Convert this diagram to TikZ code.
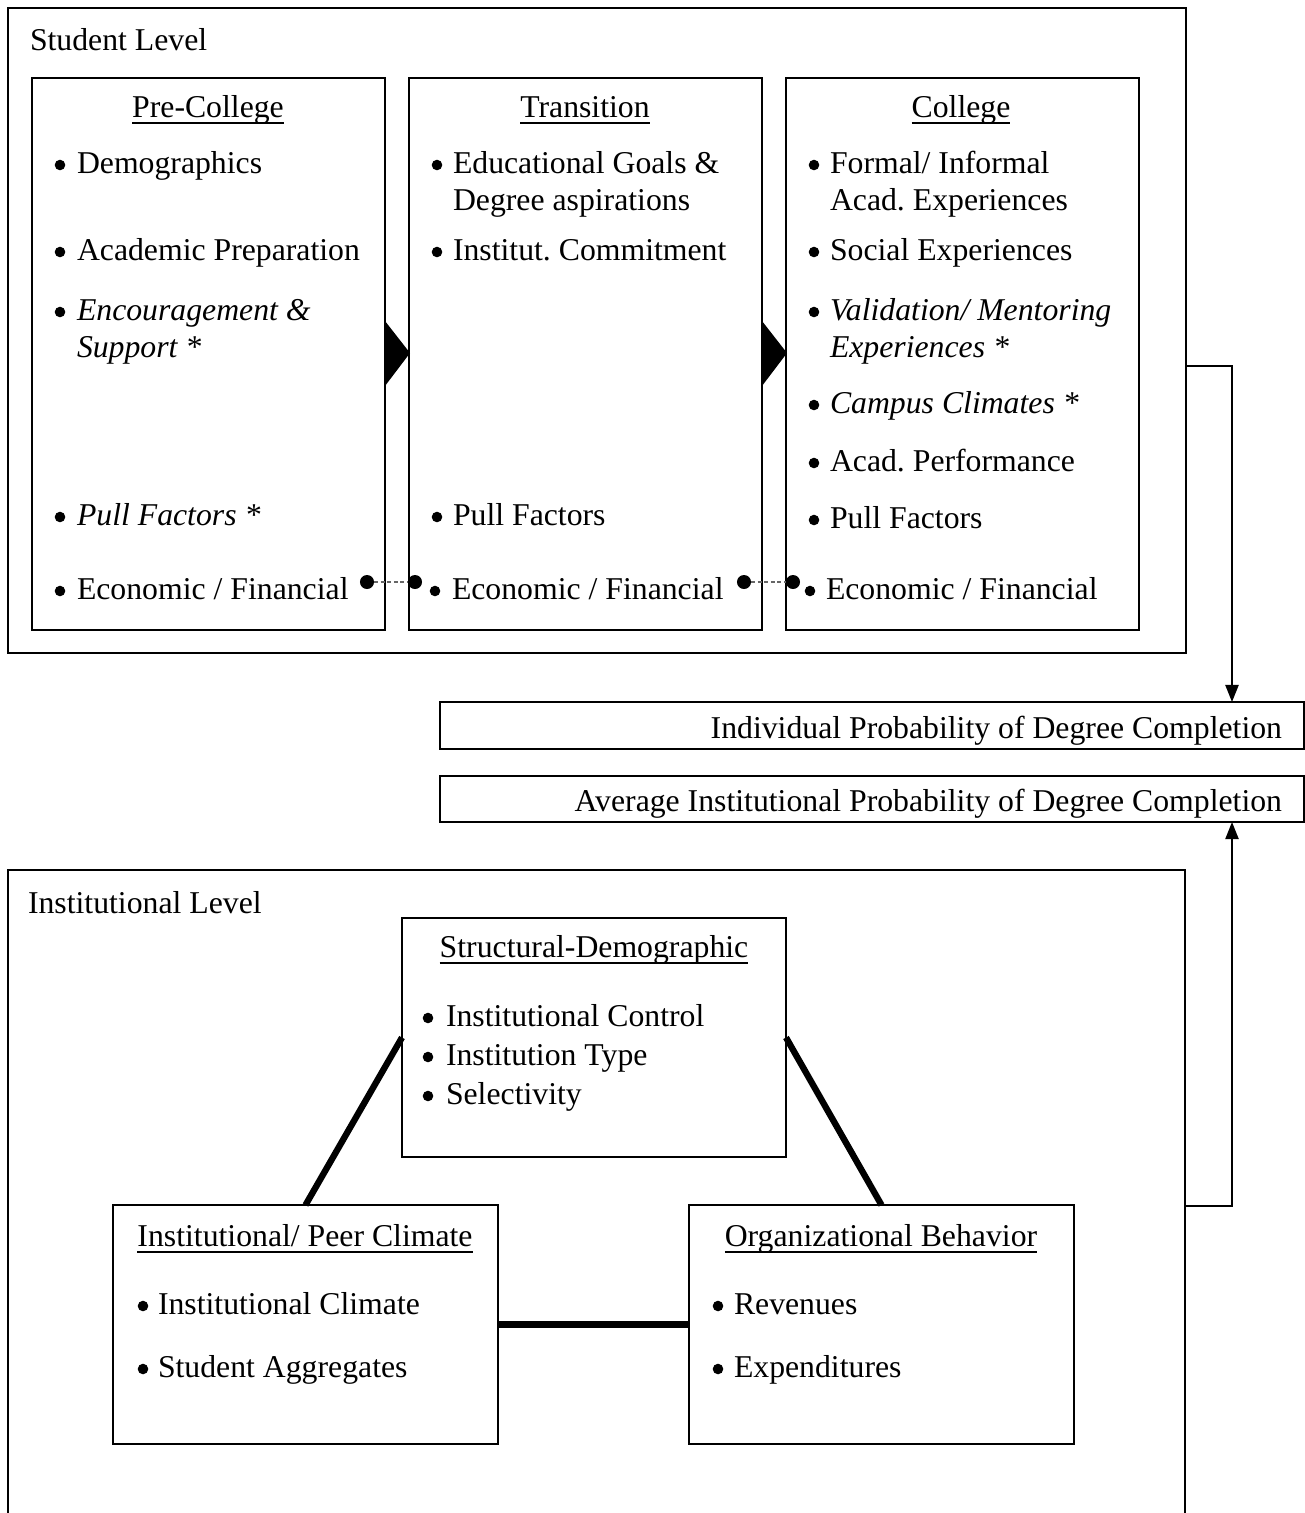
\documentclass[tikz,border=0pt]{standalone}
\usepackage{fontspec}
\setmainfont{Liberation Serif}
\usetikzlibrary{arrows.meta,fit}
\frenchspacing
\newcommand\ulx[1]{\setbox0\hbox{#1}\rlap{\rule[-2.6pt]{\wd0}{0.7pt}}\box0}
\newcommand\itm[5]{\fill (#2,#4-8) circle[radius=2pt]; \node[txt] (#1) at (#3,#4) {#5};}
\begin{document}
\begin{tikzpicture}[x=0.378pt,y=-0.378pt, font=\fontsize{12pt}{14pt}\selectfont\frenchspacing,
 box/.style={draw, line width=0.75pt, inner sep=0, outer sep=0},
 txt/.style={anchor=base west, inner sep=0, outer sep=0},
 ttl/.style={anchor=base, inner sep=0, outer sep=0},
 rtx/.style={anchor=base east, inner sep=0, outer sep=0},
 dot/.style={circle, fill, inner sep=0, outer sep=0, minimum size=5.3pt},
 link/.style={line width=2.4pt},
 flow/.style={line width=0.75pt, -{Triangle[length=6.5pt,width=5pt]}},
 dotline/.style={gray!80!black, line width=0.5pt, dash pattern=on 1.5pt off 1pt}]
\useasboundingbox (0,0) rectangle (1305,1513);
\fill[white] (0,0) rectangle (1305,1513);

% ---------- Student level ----------
\node[box, fit={(8,8) (1186,653)}] (student) {};
\node[txt] (studentlbl) at (30,50) {Student Level};

\node[box, fit={(32,78) (385,630)}] (pre) {};
\node[box, fit={(409,78) (762,630)}] (trans) {};
\node[box, fit={(786,78) (1139,630)}] (coll) {};

\fill (385,321) -- (410,353) -- (385,386) -- cycle;
\fill (762,321) -- (787,353) -- (762,386) -- cycle;

\node[ttl] (pretitle) at (208,117) {\ulx{Pre-College}};
\node[ttl] (transtitle) at (585,117) {\ulx{Transition}};
\node[ttl] (colltitle) at (961,117) {\ulx{College}};

% Pre-College
\itm{p1}{60}{77}{173}{Demographics}
\itm{p2}{60}{77}{260}{Academic Preparation}
\itm{p3}{60}{77}{320}{\itshape Encouragement \&}
\node[txt] (p3b) at (77,357) {\itshape Support *};
\itm{p4}{60}{77}{525}{\itshape Pull Factors *}
\itm{p5}{60}{77}{599}{Economic / Financial}

% Transition
\itm{t1}{437}{453}{173}{Educational Goals \&}
\node[txt] (t1b) at (453,210) {Degree aspirations};
\itm{t2}{437}{453}{260}{Institut. Commitment}
\itm{t3}{437}{453}{525}{Pull Factors}
\itm{t4}{435}{452}{599}{Economic / Financial}

% College
\itm{c1}{814}{830}{173}{Formal/ Informal}
\node[txt] (c1b) at (830,210) {Acad. Experiences};
\itm{c2}{814}{830}{260}{Social Experiences}
\itm{c3}{814}{830}{320}{\itshape Validation/ Mentoring}
\node[txt] (c3b) at (830,357) {\itshape Experiences *};
\itm{c4}{814}{830}{413}{\itshape Campus Climates *}
\itm{c5}{814}{830}{471}{Acad. Performance}
\itm{c6}{814}{830}{528}{Pull Factors}
\itm{c7}{810}{826}{599}{Economic / Financial}

% dotted links
\node[dot] (d1) at (367,582) {};
\node[dot] (d2) at (415,582) {};
\node[dot] (d3) at (744,582) {};
\node[dot] (d4) at (793,582) {};
\draw[dotline] (d1) -- (d2);
\draw[dotline] (d3) -- (d4);

% ---------- Outcome boxes ----------
\node[box, fit={(440,702) (1304,749)}] (ind) {};
\node[rtx] (indt) at (1282,738) {Individual Probability of Degree Completion};
\node[box, fit={(440,776) (1304,822)}] (avg) {};
\node[rtx] (avgt) at (1282,811) {Average Institutional Probability of Degree Completion};

\coordinate (sR) at (1186,366);
\coordinate (indTop) at (1232,702);
\draw[flow] (sR) -| (indTop);

% ---------- Institutional level ----------
\draw[line width=0.75pt] (8,1530) -- (8,870) -- (1185,870) -- (1185,1530);
\node[txt] (instlbl) at (28,913) {Institutional Level};

\coordinate (iR) at (1185,1206);
\coordinate (avgBot) at (1232,822);
\draw[flow] (iR) -| (avgBot);

\node[box, fit={(402,918) (786,1157)}] (sd) {};
\node[box, fit={(113,1205) (498,1444)}] (pc) {};
\node[box, fit={(689,1205) (1074,1444)}] (ob) {};

\node[ttl] (sdtitle) at (594,957) {\ulx{Structural-Demographic}};
\itm{s1}{428}{446}{1026}{Institutional Control}
\itm{s2}{428}{446}{1065}{Institution Type}
\itm{s3}{428}{446}{1104}{Selectivity}

\node[ttl] (pctitle) at (305,1246) {\ulx{Institutional/ Peer Climate}};
\itm{q1}{143}{158}{1314}{Institutional Climate}
\itm{q2}{143}{158}{1377}{Student Aggregates}

\node[ttl] (obtitle) at (881,1246) {\ulx{Organizational Behavior}};
\itm{o1}{718}{734}{1314}{Revenues}
\itm{o2}{718}{734}{1377}{Expenditures}

\draw[link] (sd.west) -- (pc.north);
\draw[link] (sd.east) -- (ob.north);
\draw[link] (pc.east) -- (ob.west);
\end{tikzpicture}
\end{document}
